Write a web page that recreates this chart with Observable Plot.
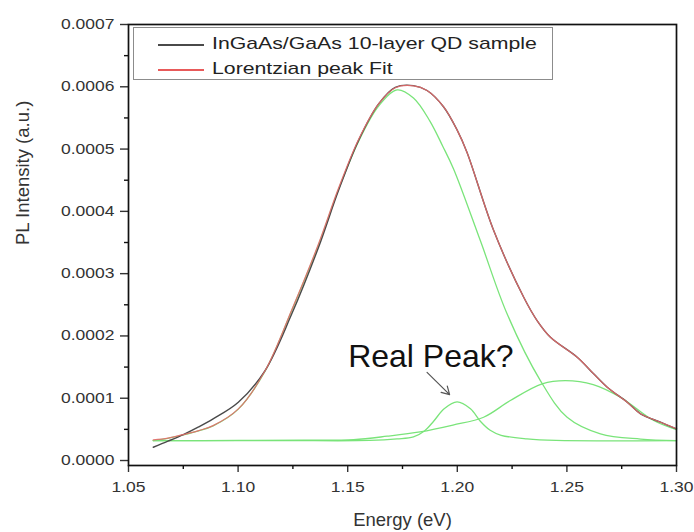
<!DOCTYPE html>
<html><head><meta charset="utf-8">
<script src="https://cdn.jsdelivr.net/npm/d3@7"></script>
<script src="https://cdn.jsdelivr.net/npm/@observablehq/plot@0.6"></script>
<style>
body{margin:0;background:#fff;}
#wrap{position:relative;width:694px;height:532px;font-family:"Liberation Sans",Arial,sans-serif;}
#wrap svg{position:absolute;left:0;top:0;}
#legend{position:absolute;left:133px;top:27px;width:420px;height:53px;border:1px solid #8c8c8c;box-sizing:border-box;background:#fff;}
.sw{position:absolute;left:24px;width:46px;height:1.5px;}
.lt{position:absolute;left:78px;font-size:17px;color:#222;transform:scaleX(1.25);transform-origin:left center;white-space:nowrap;line-height:20px;height:20px;}
</style></head><body><div id="wrap"><div id="legend"></div></div>
<script>
// Measured sample spectrum (black)
const dataE = [1.0613,1.0680,1.0750,1.0820,1.0886,1.1001,1.1123,1.1245,1.1367,1.1458,1.1549,1.1641,1.1717,1.1800,1.1862,1.1937,1.2000,1.2044,1.2166,1.2303,1.2364,1.2425,1.2547,1.2622,1.2684,1.2775,1.2836,1.2927,1.3000];
const dataI = [0.0000213,0.0000310,0.0000417,0.0000540,0.0000669,0.0000936,0.0001445,0.0002355,0.0003424,0.0004334,0.0005136,0.0005726,0.0005992,0.0006019,0.0005940,0.0005680,0.0005300,0.0004950,0.0003692,0.0002621,0.0002247,0.0001979,0.0001658,0.0001392,0.0001177,0.0000936,0.0000750,0.0000615,0.0000509];
// Cumulative Lorentzian fit (red)
const fitE = [1.0613,1.0680,1.0750,1.0820,1.0886,1.1001,1.1123,1.1245,1.1367,1.1458,1.1549,1.1641,1.1717,1.1800,1.1862,1.1937,1.2000,1.2044,1.2166,1.2303,1.2364,1.2425,1.2547,1.2622,1.2684,1.2775,1.2836,1.2927,1.3000];
const fitI = [0.0000331,0.0000360,0.0000417,0.0000480,0.0000560,0.0000828,0.0001440,0.0002420,0.0003480,0.0004370,0.0005150,0.0005726,0.0005985,0.0006015,0.0005940,0.0005680,0.0005300,0.0004950,0.0003692,0.0002621,0.0002247,0.0001979,0.0001658,0.0001392,0.0001177,0.0000936,0.0000750,0.0000615,0.0000509];
// Fitted component peaks (green)
const peak1E = [1.0613,1.0680,1.0750,1.0820,1.0886,1.1001,1.1123,1.1245,1.1367,1.1458,1.1549,1.1641,1.1725,1.1800,1.1875,1.1933,1.1983,1.2105,1.2227,1.2379,1.2501,1.2653,1.2836,1.3000];
const peak1I = [0.0000320,0.0000355,0.0000410,0.0000475,0.0000555,0.0000825,0.0001435,0.0002410,0.0003460,0.0004350,0.0005120,0.0005690,0.0005950,0.0005820,0.0005450,0.0005050,0.0004680,0.0003531,0.0002355,0.0001284,0.0000695,0.0000429,0.0000345,0.0000320];
const peak2E = [1.0613,1.1200,1.1600,1.1725,1.1800,1.1850,1.1892,1.1940,1.1999,1.2060,1.2105,1.2150,1.2200,1.2318,1.2450,1.3000];
const peak2I = [0.0000320,0.0000320,0.0000322,0.0000347,0.0000380,0.0000475,0.0000631,0.0000830,0.0000940,0.0000830,0.0000631,0.0000485,0.0000405,0.0000347,0.0000322,0.0000320];
const peak3E = [1.0613,1.1000,1.1300,1.1527,1.1680,1.1830,1.1980,1.2120,1.2242,1.2387,1.2493,1.2620,1.2744,1.2896,1.3000];
const peak3I = [0.0000320,0.0000322,0.0000326,0.0000335,0.0000390,0.0000460,0.0000570,0.0000695,0.0000963,0.0001231,0.0001284,0.0001220,0.0001016,0.0000642,0.0000495];

const xMajor = [1.05,1.10,1.15,1.20,1.25,1.30];
const xMinor = [1.075,1.125,1.175,1.225,1.275];
const yMajor = [0,0.0001,0.0002,0.0003,0.0004,0.0005,0.0006,0.0007];
const yMinor = [0.00005,0.00015,0.00025,0.00035,0.00045,0.00055,0.00065];

const xLabel = ["Energy (eV)"];
const yLabel = ["PL Intensity (a.u.)"];
const legendLabels = ["InGaAs/GaAs 10-layer QD sample","Lorentzian peak Fit"];
const legendColors = ["#4a4a4a","#e36a6a"];
const legendSwatch = ["#4a4a4a","#e85a5a"];

const annText = ["Real Peak?"];
const annX = [1.1502];
const annY = [0.000167];
const arrowX1 = [1.1862], arrowY1 = [0.0001415], arrowX2 = [1.1965], arrowY2 = [0.0001058];

const green = "#7ae47a";
const rows = (E, I) => E.map((e, i) => ({E: e, I: I[i]}));
const ann = annText.map((t, i) => ({t, x: annX[i], y: annY[i]}));
const arr = arrowX1.map((d, i) => ({x1: d, y1: arrowY1[i], x2: arrowX2[i], y2: arrowY2[i]}));

const plot = Plot.plot({
  width: 694, height: 532,
  marginLeft: 128, marginRight: 18, marginTop: 24, marginBottom: 67,
  x: {domain: [1.05, 1.30]},
  y: {domain: [-0.000008, 0.0007]},
  style: {fontFamily: '"Liberation Sans", Arial, sans-serif', background: "transparent", color: "#222"},
  marks: [
    Plot.line(rows(peak2E, peak2I), {x: "E", y: "I", stroke: green, strokeWidth: 1.3, curve: "catmull-rom"}),
    Plot.line(rows(peak3E, peak3I), {x: "E", y: "I", stroke: green, strokeWidth: 1.3, curve: "catmull-rom"}),
    Plot.line(rows(peak1E, peak1I), {x: "E", y: "I", stroke: green, strokeWidth: 1.3, curve: "catmull-rom"}),
    Plot.line(rows(dataE, dataI), {x: "E", y: "I", stroke: legendColors[0], strokeWidth: 1.4, curve: "catmull-rom"}),
    Plot.line(rows(fitE, fitI), {x: "E", y: "I", stroke: legendColors[1], strokeWidth: 1.2, strokeOpacity: 0.9, curve: "catmull-rom"}),
    Plot.axisX({ticks: xMinor, tickSize: 4, tickFormat: () => "", label: null, strokeWidth: 1.4, color: "#111"}),
    Plot.axisX({ticks: xMajor, tickSize: 7, tickPadding: 10, tickFormat: d => d.toFixed(2), label: null, fontSize: 14, strokeWidth: 1.4, color: "#333"}),
    Plot.axisY({ticks: yMinor, tickSize: 4, tickFormat: () => "", label: null, strokeWidth: 1.4, color: "#111"}),
    Plot.axisY({ticks: yMajor, tickSize: 8, tickPadding: 6, tickFormat: d => d.toFixed(4), label: null, fontSize: 14, strokeWidth: 1.4, color: "#333"}),
    Plot.frame({stroke: "#111", strokeWidth: 1.7}),
    Plot.text(xLabel, {text: d => d, frameAnchor: "bottom", dy: 60, fontSize: 18.5, fill: "#333", ariaLabel: "xlabel"}),
    Plot.text(yLabel, {text: d => d, frameAnchor: "left", dx: -105, rotate: -90, fontSize: 18.5, fill: "#333"}),
    Plot.text(ann, {x: "x", y: "y", text: "t", fontSize: 32, textAnchor: "start", fill: "#111"}),
    Plot.arrow(arr, {x1: "x1", y1: "y1", x2: "x2", y2: "y2", stroke: "#555", strokeWidth: 1.2, headLength: 11})
  ]
});
const wrap = document.getElementById("wrap");
wrap.prepend(plot);
plot.querySelectorAll('g[aria-label="x-axis tick label"] text, g[aria-label="y-axis tick label"] text, g[aria-label="xlabel"] text').forEach(t => {
  const L = t.getComputedTextLength();
  if (L > 0) { t.setAttribute("textLength", (L * 1.25).toFixed(1)); t.setAttribute("lengthAdjust", "spacingAndGlyphs"); }
});
const legend = document.getElementById("legend");
const rowCenters = [16, 41];
legendLabels.forEach((lab, i) => {
  const sw = document.createElement("div");
  sw.className = "sw";
  sw.style.top = rowCenters[i] + "px";
  sw.style.backgroundColor = legendSwatch[i];
  legend.appendChild(sw);
  const tx = document.createElement("div");
  tx.className = "lt";
  tx.style.top = (rowCenters[i] - 10) + "px";
  tx.textContent = lab;
  legend.appendChild(tx);
});
</script></body></html>
